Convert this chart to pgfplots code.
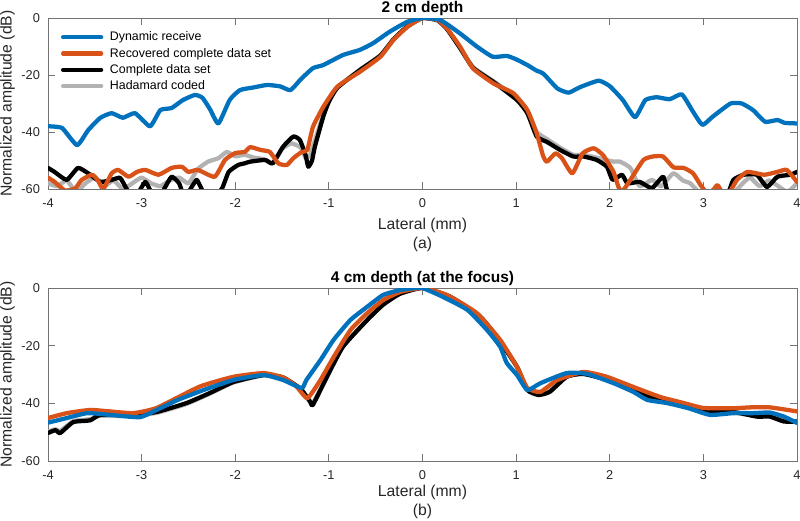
\documentclass[border=0pt]{standalone}
\usepackage{pgfplots}
\pgfplotsset{compat=1.18}
\usepackage{fontspec}
\setmainfont{Liberation Sans}
\definecolor{mblue}{rgb}{0,0.447,0.741}
\definecolor{morange}{rgb}{0.85,0.325,0.098}
\definecolor{mgray}{rgb}{0.7,0.7,0.7}
\definecolor{axc}{rgb}{0.45,0.45,0.45}
\pgfplotsset{
  every axis title shift=0pt,
  myaxis/.style={
    scale only axis,
    width=561.75pt,
    xmin=-4, xmax=4, ymin=-60, ymax=0,
    xtick={-4,-3,...,4}, ytick={-60,-40,-20,0},
    tick align=inside, tick pos=both,
    major tick length=5pt,
    axis line style={axc, line width=0.6pt},
    every tick/.style={axc, line width=0.6pt},
    /pgf/number format/assume math mode=true,
    tick label style={font=\fontsize{9.6}{11}\selectfont, text=black!85},
    xticklabel style={yshift=-3.5pt},
    yticklabel style={xshift=-2.5pt},
    every axis x label/.style={at={(axis description cs:0.5,0)}, anchor=north, yshift=-18.5pt, align=center, font=\fontsize{11.8}{14.25}\selectfont, text=black!85},
    every axis y label/.style={at={(axis description cs:-0.054,0.5)}, rotate=90, anchor=center, font=\fontsize{11.8}{14}\selectfont, text=black!85},
    title style={at={(axis description cs:0.5,1)}, anchor=base, yshift=4.5pt, font=\bfseries\fontsize{11.6}{13}\selectfont},
    ylabel={Normalized amplitude (dB)},
    every axis plot/.append style={line width=3.2pt, line join=round, line cap=round, smooth, tension=0.3},
  }
}
\begin{document}
\begin{tikzpicture}
\path[use as bounding box] (0,0) rectangle (600pt,-390.75pt);
\begin{axis}[myaxis, height=128.25pt, at={(36pt,-13.5pt)}, anchor=north west,
  title={2 cm depth}, xlabel={Lateral (mm)\\(a)},
  legend style={draw=none, fill=none, at={(axis description cs:0.017,0.936)}, anchor=north west,
    font=\fontsize{9.3}{11}\selectfont, row sep=0pt, column sep=4pt, inner sep=0pt,
    nodes={text height=7.8pt, text depth=2.4pt, inner sep=1pt}},
  legend cell align=left,
  legend image code/.code={\draw[#1, line width=3.2pt] (0pt,0pt) -- (28.5pt,0pt);},
]
\addlegendimage{mblue}
\addlegendentry{Dynamic receive}
\addlegendimage{morange}
\addlegendentry{Recovered complete data set}
\addlegendimage{black}
\addlegendentry{Complete data set}
\addlegendimage{mgray}
\addlegendentry{Hadamard coded}
% Hadamard coded
\addplot[mgray, forget plot] coordinates {
(-4,-58)(-3.9,-59)(-3.8,-57)(-3.7,-61)(-3.6,-58)(-3.5,-56)(-3.4,-59)(-3.3,-57)(-3.2,-60)(-3.1,-58)(-3.0,-56)(-2.9,-58)(-2.8,-59)(-2.7,-57)(-2.6,-56)(-2.5,-58)(-2.4,-53)(-2.29,-50.4)(-2.18,-49.2)(-2.09,-47)(-2.0,-48.5)(-1.9,-48)(-1.8,-49)(-1.7,-49.5)(-1.6,-51)(-1.5,-46)(-1.4,-44)(-1.3,-45.5)(-1.25,-49)(-1.2,-48)(-1.15,-43)(-1.06,-34)(-1.0,-29)(-0.91,-24.3)(-0.67,-18.2)(-0.45,-13.1)(-0.31,-7.4)(-0.16,-2.8)(0,0)(0.16,-0.8)(0.26,-3.7)(0.40,-10.3)(0.54,-17.2)(0.76,-22.2)(1.01,-28)(1.12,-32.5)(1.22,-40)(1.33,-42.5)(1.47,-45.5)(1.61,-48)(1.72,-48)(1.86,-49)(2.04,-50.4)(2.11,-50.4)(2.22,-52.6)(2.32,-59)(2.45,-56.8)(2.55,-59)(2.68,-54.5)(2.78,-57)(2.86,-58)(2.95,-61)(3.1,-63)(3.3,-62)(3.42,-58)(3.5,-56)(3.6,-59)(3.7,-57)(3.8,-59)(3.9,-61)(4,-58)
};
% Complete data set
\addplot[black, forget plot] coordinates {
(-4,-52.6)(-3.93,-54)(-3.80,-56.8)(-3.68,-52.6)(-3.57,-54.5)(-3.44,-57.5)(-3.32,-56.8)(-3.23,-56.1)(-3.16,-60)(-3.10,-63)(-3.03,-61)(-2.96,-57.5)(-2.90,-61)(-2.84,-64)(-2.76,-60)(-2.68,-55.7)(-2.60,-58)(-2.54,-63)(-2.46,-59)(-2.41,-56.8)(-2.35,-60.5)(-2.25,-64)(-2.14,-59.7)(-2.07,-54)(-1.97,-51.6)(-1.90,-51)(-1.84,-50.4)(-1.68,-49.8)(-1.60,-51)(-1.49,-45.2)(-1.38,-41.6)(-1.31,-42.8)(-1.25,-48)(-1.22,-52.2)(-1.18,-50)(-1.15,-45.2)(-1.06,-34.6)(-1.0,-29.4)(-0.91,-24.5)(-0.67,-18.3)(-0.45,-13.2)(-0.31,-7.5)(-0.16,-2.9)(0,0)(0.16,-0.8)(0.26,-3.8)(0.40,-10.5)(0.54,-17.5)(0.76,-22.5)(1.01,-28.8)(1.12,-33.4)(1.22,-41.6)(1.33,-43.5)(1.47,-46.3)(1.61,-48.6)(1.72,-48.6)(1.86,-49.8)(1.97,-52.2)(2.03,-56.8)(2.13,-55)(2.19,-58)(2.32,-57.5)(2.45,-59.7)(2.57,-55.7)(2.62,-61)(2.75,-64)(3.0,-65)(3.25,-62)(3.32,-56.8)(3.43,-55)(3.57,-55)(3.68,-59.3)(3.79,-55.7)(3.93,-55)(4,-54)
};
% Recovered complete data set
\addplot[morange, forget plot] coordinates {
(-4,-56)(-3.93,-57.5)(-3.82,-60.5)(-3.71,-59.8)(-3.64,-56.8)(-3.53,-55)(-3.47,-56.8)(-3.41,-60)(-3.32,-54.5)(-3.25,-53.3)(-3.14,-55.7)(-3.05,-54)(-2.96,-53.3)(-2.82,-55)(-2.68,-52.6)(-2.57,-52.2)(-2.50,-54)(-2.40,-53.3)(-2.22,-55.7)(-2.11,-49.8)(-2.0,-47.4)(-1.90,-47)(-1.84,-45.3)(-1.73,-46.3)(-1.63,-47)(-1.54,-51)(-1.45,-51.6)(-1.38,-49.2)(-1.29,-47)(-1.23,-46.3)(-1.17,-38.2)(-1.06,-31.2)(-0.91,-24.1)(-0.67,-18.9)(-0.45,-13.6)(-0.31,-7.7)(-0.16,-3.1)(0,0)(0.16,-0.7)(0.26,-3.6)(0.40,-10)(0.54,-17.7)(0.76,-23)(0.97,-26.4)(1.12,-32.3)(1.22,-40.5)(1.29,-48.6)(1.33,-50.4)(1.42,-47.5)(1.49,-49.2)(1.6,-54.5)(1.71,-47.5)(1.83,-45.7)(1.93,-48.2)(2.04,-54)(2.09,-59)(2.13,-61)(2.22,-56.8)(2.36,-49.8)(2.46,-48.6)(2.57,-48.6)(2.68,-52.4)(2.79,-52.6)(2.89,-54.5)(2.97,-58.6)(3.03,-61)(3.10,-60.5)(3.15,-58.6)(3.20,-61)(3.28,-61)(3.36,-56.8)(3.47,-54)(3.65,-55)(3.79,-54)(3.89,-53.3)(4,-57.5)
};
% Dynamic receive
\addplot[mblue, forget plot] coordinates {
(-4,-38)(-3.85,-38.6)(-3.69,-44.6)(-3.57,-39.3)(-3.44,-35)(-3.32,-33.4)(-3.20,-35)(-3.07,-33.4)(-2.91,-38)(-2.80,-32.3)(-2.68,-31.6)(-2.56,-28.8)(-2.43,-27)(-2.35,-28)(-2.27,-32)(-2.18,-37)(-2.06,-28.8)(-1.95,-25.3)(-1.81,-24.4)(-1.66,-23.5)(-1.52,-24)(-1.41,-25.3)(-1.30,-21.5)(-1.17,-17.6)(-1.06,-16.5)(-0.85,-13)(-0.67,-11.2)(-0.53,-8.9)(-0.35,-4.8)(-0.16,-1.3)(0,0)(0.19,-0.7)(0.40,-5.4)(0.58,-10)(0.75,-13.6)(0.90,-13.3)(1.0,-14.5)(1.12,-16.5)(1.22,-18.5)(1.29,-19.5)(1.44,-24.7)(1.56,-26.2)(1.68,-24.3)(1.88,-22)(2.0,-23.9)(2.14,-28.8)(2.27,-34.8)(2.38,-28.8)(2.50,-27.8)(2.64,-28.5)(2.77,-26.8)(2.89,-32.9)(2.99,-37.5)(3.10,-34.6)(3.29,-30)(3.41,-30)(3.53,-32.3)(3.66,-36.4)(3.79,-35.8)(3.87,-36.8)(4,-37)
};
\end{axis}
\begin{axis}[myaxis, height=129.75pt, at={(36pt,-216pt)}, anchor=north west,
  title={4 cm depth (at the focus)}, xlabel={Lateral (mm)\\(b)},
  xlabel style={yshift=3.75pt}]
% Hadamard coded
\addplot[mgray] coordinates {
(-4,-49.8)(-3.92,-49)(-3.87,-49.6)(-3.73,-46.2)(-3.55,-45.5)(-3.44,-44.3)(-3.1,-44.4)(-2.84,-43.3)(-2.52,-40.2)(-2.27,-36.6)(-2.02,-32.8)(-1.70,-30.3)(-1.49,-31.2)(-1.30,-35.2)(-1.20,-39.2)(-1.17,-40)(-1.02,-30.5)(-0.85,-20.2)(-0.59,-11)(-0.42,-5.7)(-0.24,-2)(0,0)(0.30,-3.1)(0.62,-10)(0.83,-18.5)(1.01,-27.2)(1.12,-35.2)(1.24,-36.8)(1.36,-35.7)(1.54,-30.7)(1.72,-29.8)(2.04,-32.6)(2.40,-37.6)(2.79,-40.7)(3.04,-43.2)(3.32,-43.3)(3.57,-44.3)(3.71,-44.3)(3.86,-46)(4,-46.5)
};
% Complete data set
\addplot[black] coordinates {
(-4,-50.3)(-3.92,-49.3)(-3.87,-50.3)(-3.73,-46.5)(-3.55,-45.9)(-3.44,-44)(-3.1,-44)(-2.84,-43)(-2.52,-39.9)(-2.27,-36.4)(-2.02,-32.6)(-1.70,-30.2)(-1.49,-31)(-1.30,-35)(-1.20,-39.5)(-1.17,-40.5)(-1.02,-30.8)(-0.85,-20.4)(-0.59,-11.1)(-0.42,-5.8)(-0.24,-2)(0,0)(0.30,-3.1)(0.62,-10)(0.83,-18.7)(1.01,-27.4)(1.12,-35.4)(1.24,-37.1)(1.36,-36)(1.54,-30.8)(1.72,-29.8)(2.04,-32.4)(2.40,-37.4)(2.79,-40.5)(3.04,-43)(3.32,-43)(3.57,-44.6)(3.71,-44.6)(3.86,-46.3)(4,-46.3)
};
% Recovered complete data set
\addplot[morange] coordinates {
(-4,-45.1)(-3.8,-43.4)(-3.55,-42.3)(-3.34,-42.8)(-3.09,-43.4)(-2.84,-41.6)(-2.38,-34.2)(-2.02,-30.8)(-1.70,-29.5)(-1.49,-31)(-1.35,-34)(-1.23,-38.2)(-1.09,-31.9)(-0.95,-24)(-0.77,-14.6)(-0.59,-8.7)(-0.42,-4.2)(-0.24,-1.4)(0,0)(0.26,-2.4)(0.58,-8.7)(0.83,-18)(1.01,-27.4)(1.12,-34.7)(1.26,-36)(1.44,-31.9)(1.72,-29.1)(1.97,-30.8)(2.25,-34.3)(2.54,-37.8)(2.79,-39.9)(3.0,-41.6)(3.32,-41.7)(3.5,-41.4)(3.71,-41.4)(4,-42.8)
};
% Dynamic receive
\addplot[mblue] coordinates {
(-4,-46.7)(-3.80,-45.1)(-3.58,-43.4)(-3.34,-44)(-3.02,-44.8)(-2.84,-42.3)(-2.62,-38.9)(-2.34,-35.4)(-2.02,-31.9)(-1.70,-30.2)(-1.49,-31.9)(-1.29,-34.7)(-1.24,-31.9)(-1.09,-25)(-0.95,-18)(-0.77,-11.1)(-0.59,-6.5)(-0.42,-2.4)(-0.24,-0.7)(-0.1,-0.1)(0,0)(0.22,-3.1)(0.48,-7.6)(0.69,-14.6)(0.83,-20.4)(0.90,-26)(1.01,-30.2)(1.12,-35.4)(1.26,-33)(1.54,-29.5)(1.76,-29.8)(2.04,-33)(2.25,-36)(2.40,-38.8)(2.61,-39.9)(2.83,-41.6)(3.07,-44)(3.32,-43.4)(3.53,-43.4)(3.71,-43.2)(3.86,-44.6)(4,-46.8)
};
\end{axis}
\end{tikzpicture}
\end{document}
